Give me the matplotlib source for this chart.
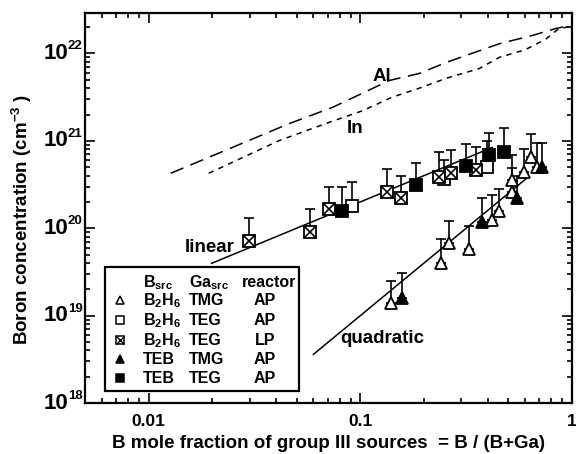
import numpy as np
import matplotlib
matplotlib.use('Agg')
import matplotlib.pyplot as plt
from matplotlib.ticker import FuncFormatter, NullFormatter, LogLocator
from matplotlib.patches import Rectangle

plt.rcParams['font.family'] = ['Liberation Sans', 'DejaVu Sans']
plt.rcParams['font.weight'] = 'bold'
plt.rcParams['axes.labelweight'] = 'bold'
plt.rcParams['mathtext.fontset'] = 'custom'
plt.rcParams['mathtext.rm'] = 'Liberation Sans:bold'
plt.rcParams['mathtext.bf'] = 'Liberation Sans:bold'
plt.rcParams['mathtext.it'] = 'Liberation Sans:bold'
plt.rcParams['mathtext.sf'] = 'Liberation Sans:bold'

# B2H6 / TMG / AP (open triangles)
x_b2h6_tmg = [0.139, 0.241, 0.263, 0.327, 0.42, 0.453, 0.52, 0.52, 0.59, 0.64, 0.68]
y_b2h6_tmg = [1.4e19, 4.0e19, 6.7e19, 5.8e19, 1.23e20, 1.56e20, 2.6e20, 3.6e20, 4.4e20, 6.5e20, 5.0e20]
t_b2h6_tmg = [2.5e19, 7.5e19, 1.2e20, 1.05e20, 2.4e20, 2.8e20, 4.85e20, 6.8e20, 8.0e20, 1.2e21, 9.4e20]

# B2H6 / TEG / AP (open squares)
x_b2h6_teg = [0.091, 0.249, 0.398]
y_b2h6_teg = [1.8e20, 3.7e20, 5.0e20]
t_b2h6_teg = [3.4e20, 6.0e20, 1.0e21]

# B2H6 / TEG / LP (crossed squares)
x_b2h6_lp = [0.0297, 0.058, 0.071, 0.133, 0.156, 0.236, 0.268, 0.352]
y_b2h6_lp = [7.1e19, 9.0e19, 1.66e20, 2.6e20, 2.2e20, 3.9e20, 4.3e20, 4.6e20]
t_b2h6_lp = [1.3e20, 1.66e20, 3.0e20, 4.8e20, 4.0e20, 7.4e20, 7.8e20, 8.5e20]

# TEB / TMG / AP (filled triangles)
x_teb_tmg = [0.157, 0.376, 0.55, 0.72]
y_teb_tmg = [1.6e19, 1.17e20, 2.2e20, 5.0e20]
t_teb_tmg = [3.1e19, 2.2e20, 4.0e20, 9.4e20]

# TEB / TEG / AP (filled squares)
x_teb_teg = [0.082, 0.184, 0.316, 0.405, 0.477]
y_teb_teg = [1.56e20, 3.1e20, 5.1e20, 6.8e20, 7.4e20]
t_teb_teg = [2.95e20, 5.6e20, 9.3e20, 1.23e21, 1.4e21]

# reference curves
x_al = [0.0127, 0.0463, 0.0738, 0.137, 0.19, 0.255, 0.453, 0.647, 0.84, 1.0]
y_al = [4.25e20, 1.58e21, 2.41e21, 4.9e21, 5.9e21, 7.9e21, 1.29e22, 1.6e22, 1.93e22, 2.1e22]
x_in = [0.0192, 0.0415, 0.0714, 0.102, 0.1415, 0.19, 0.255, 0.364, 0.453, 0.6, 0.75, 0.85, 1.0]
y_in = [4.25e20, 1.01e21, 1.63e21, 2.2e21, 3.16e21, 4.0e21, 5.2e21, 6.7e21, 9.0e21, 1.1e22, 1.45e22, 1.85e22, 2.1e22]
x_lin = [0.0198, 0.42]
y_lin = [3.96e19, 8.4e20]
x_quad = [0.06, 0.1, 0.2, 0.3, 0.4, 0.5, 0.62]
y_quad = [3.6e18, 1.0e19, 4.0e19, 9.0e19, 1.6e20, 2.5e20, 3.84e20]

y_ticks = [1e18, 1e19, 1e20, 1e21, 1e22]

legend_rows = [('^', 'none', r'$\mathrm{B_2H_6}$', 'TMG', 'AP'),
               ('s', 'none', r'$\mathrm{B_2H_6}$', 'TEG', 'AP'),
               ('x', 'none', r'$\mathrm{B_2H_6}$', 'TEG', 'LP'),
               ('^', 'k', 'TEB', 'TMG', 'AP'),
               ('s', 'k', 'TEB', 'TEG', 'AP')]

fig = plt.figure(figsize=(5.76, 4.54), dpi=100)
ax = fig.add_axes([85/576, 1-403/454, 487/576, 390/454])
ax.set_xscale('log')
ax.set_yscale('log')
ax.set_xlim(0.005, 1)
ax.set_ylim(1e18, 2.9e22)

ax.plot(x_al, y_al, color='k', lw=1.1, dashes=(9, 5))
ax.plot(x_in, y_in, color='k', lw=1.1, dashes=(3.5, 3.5))
ax.plot(x_lin, y_lin, color='k', lw=1.1)
ax.plot(x_quad, y_quad, color='k', lw=1.1)

eb = dict(fmt='none', ecolor='k', elinewidth=1.2, capsize=3.5, capthick=1.2, zorder=2)
ms = 9
for xs, ys, ts, mk, fc in [(x_b2h6_tmg, y_b2h6_tmg, t_b2h6_tmg, '^', 'white'),
                           (x_b2h6_teg, y_b2h6_teg, t_b2h6_teg, 's', 'white'),
                           (x_b2h6_lp, y_b2h6_lp, t_b2h6_lp, 's', 'white'),
                           (x_teb_tmg, y_teb_tmg, t_teb_tmg, '^', 'k'),
                           (x_teb_teg, y_teb_teg, t_teb_teg, 's', 'k')]:
    ys = np.array(ys)
    up = np.array(ts) - ys
    ax.errorbar(xs, ys, yerr=[np.zeros_like(up), up], **eb)
    ax.plot(xs, ys, ls='none', marker=mk, ms=ms, mfc=fc, mec='k', mew=1.3, zorder=3)
ax.plot(x_b2h6_lp, y_b2h6_lp, ls='none', marker='x', ms=ms, mec='k', mew=1.2, zorder=4)

ax.text(0.127, 5.4e21, 'Al', fontsize=13.5, ha='center', va='center')
ax.text(0.094, 1.39e21, 'In', fontsize=13.5, ha='center', va='center')
ax.text(0.0194, 6.0e19, 'linear', fontsize=13.5, ha='center', va='center')
ax.text(0.127, 5.4e18, 'quadratic', fontsize=13.5, ha='center', va='center')

ax.set_xlabel('B mole fraction of group III sources  = B / (B+Ga)', fontsize=13.5, labelpad=4)
ax.set_ylabel('Boron concentration (cm$^{-3}$ )', fontsize=13.5)
ax.yaxis.set_label_coords((34 - 85) / 487, 0.47)

ax.xaxis.set_major_formatter(FuncFormatter(lambda v, p: '%g' % v))
ax.xaxis.set_minor_formatter(NullFormatter())
ax.yaxis.set_major_locator(LogLocator(base=10))
ax.yaxis.set_major_formatter(NullFormatter())
ax.yaxis.set_minor_formatter(NullFormatter())
ax.tick_params(axis='x', which='major', labelsize=12.5, pad=8)
ax.tick_params(which='both', direction='in', top=True, right=True, width=1.2)
ax.tick_params(which='major', length=7)
ax.tick_params(which='minor', length=3.5)
for s in ax.spines.values():
    s.set_linewidth(1.6)

# y tick labels: big "10" with a small exponent
for v in y_ticks:
    ax.annotate('10', xy=(0, v), xycoords=('axes fraction', 'data'), xytext=(-12, 0),
                textcoords='offset points', ha='right', va='center', fontsize=16)
    ax.annotate('%d' % round(np.log10(v)), xy=(0, v), xycoords=('axes fraction', 'data'),
                xytext=(-12.3, 5), textcoords='offset points', ha='left', va='center', fontsize=9.5)

# legend table, placed in pixel-derived axes fractions
def fx(px):
    return (px - 85) / 487

def fy(py):
    return (403 - py) / 390

ax.add_patch(Rectangle((fx(105), fy(391)), fx(299) - fx(105), fy(267) - fy(391),
                       transform=ax.transAxes, fc='white', ec='k', lw=1.6, zorder=5))
kw = dict(transform=ax.transAxes, fontsize=11.5, zorder=6, va='baseline')
ax.text(fx(143), fy(287), r'$\mathrm{B_{src}}$', **kw)
ax.text(fx(189), fy(287), r'$\mathrm{Ga_{src}}$', **kw)
ax.text(fx(242), fy(287), 'reactor', **kw)
baselines = [305, 325, 345, 364, 383]
for (mk, fc, b, ga, r), bl in zip(legend_rows, baselines):
    mx, my = fx(120), fy(bl - 5)
    if mk == 'x':
        ax.plot(mx, my, marker='s', ms=6, mfc='white', mec='k', mew=1.1, transform=ax.transAxes, zorder=6)
        ax.plot(mx, my, marker='x', ms=6, mec='k', mew=1.0, transform=ax.transAxes, zorder=7)
    else:
        ax.plot(mx, my, marker=mk, ms=6, mfc=fc, mec='k', mew=1.1, transform=ax.transAxes, zorder=6)
    ax.text(fx(143), fy(bl), b, **kw)
    ax.text(fx(189), fy(bl), ga, **kw)
    ax.text(fx(265), fy(bl), r, ha='center', **kw)

fig.savefig('out.png', dpi=100)
